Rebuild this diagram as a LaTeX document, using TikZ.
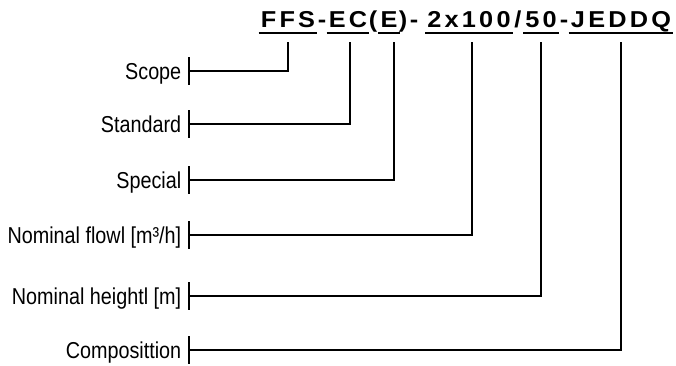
\documentclass[tikz,border=0pt]{standalone}
\usepackage{fontspec}
\setmainfont{Liberation Sans}
\newfontfamily\narrowfont[FakeStretch=0.86]{Liberation Sans}
\newfontfamily\codefont[LetterSpace=14,FakeStretch=1.1]{Liberation Sans}

\begin{document}
\begin{tikzpicture}[x=1pt, y=1pt, line width=1.5pt,
    seg/.style={anchor=base, inner sep=0pt, font=\codefont\bfseries\fontsize{23}{26}\selectfont},
    lbl/.style={anchor=east, inner xsep=7pt, inner ysep=0pt, text height=18pt, text depth=2pt,
                font=\narrowfont\fontsize{23}{26}\selectfont},
    uline/.style={line width=2.5pt}]
    \useasboundingbox (0,0) rectangle (676,365);

    % type code
    \node[seg] (ffs) at (288,337) {FFS};
    \node[seg] (d1) at (322,337) {-};
    \node[seg] (ec) at (348,337) {EC};
    \node[seg] (p1) at (373,337) {(};
    \node[seg] (e) at (389,337) {E};
    \node[seg] (p2) at (403,337) {)};
    \node[seg] (d2) at (414,337) {-};
    \node[seg] (flow) at (469,337) {2x100};
    \node[seg] (sl) at (518,337) {/};
    \node[seg] (head) at (541,337) {50};
    \node[seg] (d3) at (564,337) {-};
    \node[seg] (comp) at (621,337) {JEDDQ};
    \foreach \s in {ffs,ec,e,flow,head,comp}
        \draw[uline] ([xshift=-1.5pt,yshift=-5pt]\s.base west) -- ([xshift=1.5pt,yshift=-5pt]\s.base east);

    % meanings
    \node[lbl] (scope) at (189,294) {Scope};
    \node[lbl] (std) at (189,241) {Standard};
    \node[lbl] (spec) at (189,185) {Special};
    \node[lbl] (nflow) at (189,130) {Nominal flowl [m³/h]};
    \node[lbl] (nhead) at (189,69) {Nominal heightl [m]};
    \node[lbl] (ncomp) at (189,15) {Composittion};
    \foreach \l in {scope,std,spec,nflow,nhead,ncomp}
        \draw ([yshift=14pt]\l.east) -- ([yshift=-14pt]\l.east);

    \coordinate (top) at (0,323);
    \draw (scope.east) -| (ffs |- top);
    \draw (std.east) -| ([xshift=2pt]ec |- top);
    \draw (spec.east) -| ([xshift=5pt]e |- top);
    \draw (nflow.east) -| ([xshift=3pt]flow |- top);
    \draw (nhead.east) -| (head |- top);
    \draw (ncomp.east) -| (comp |- top);
\end{tikzpicture}
\end{document}
